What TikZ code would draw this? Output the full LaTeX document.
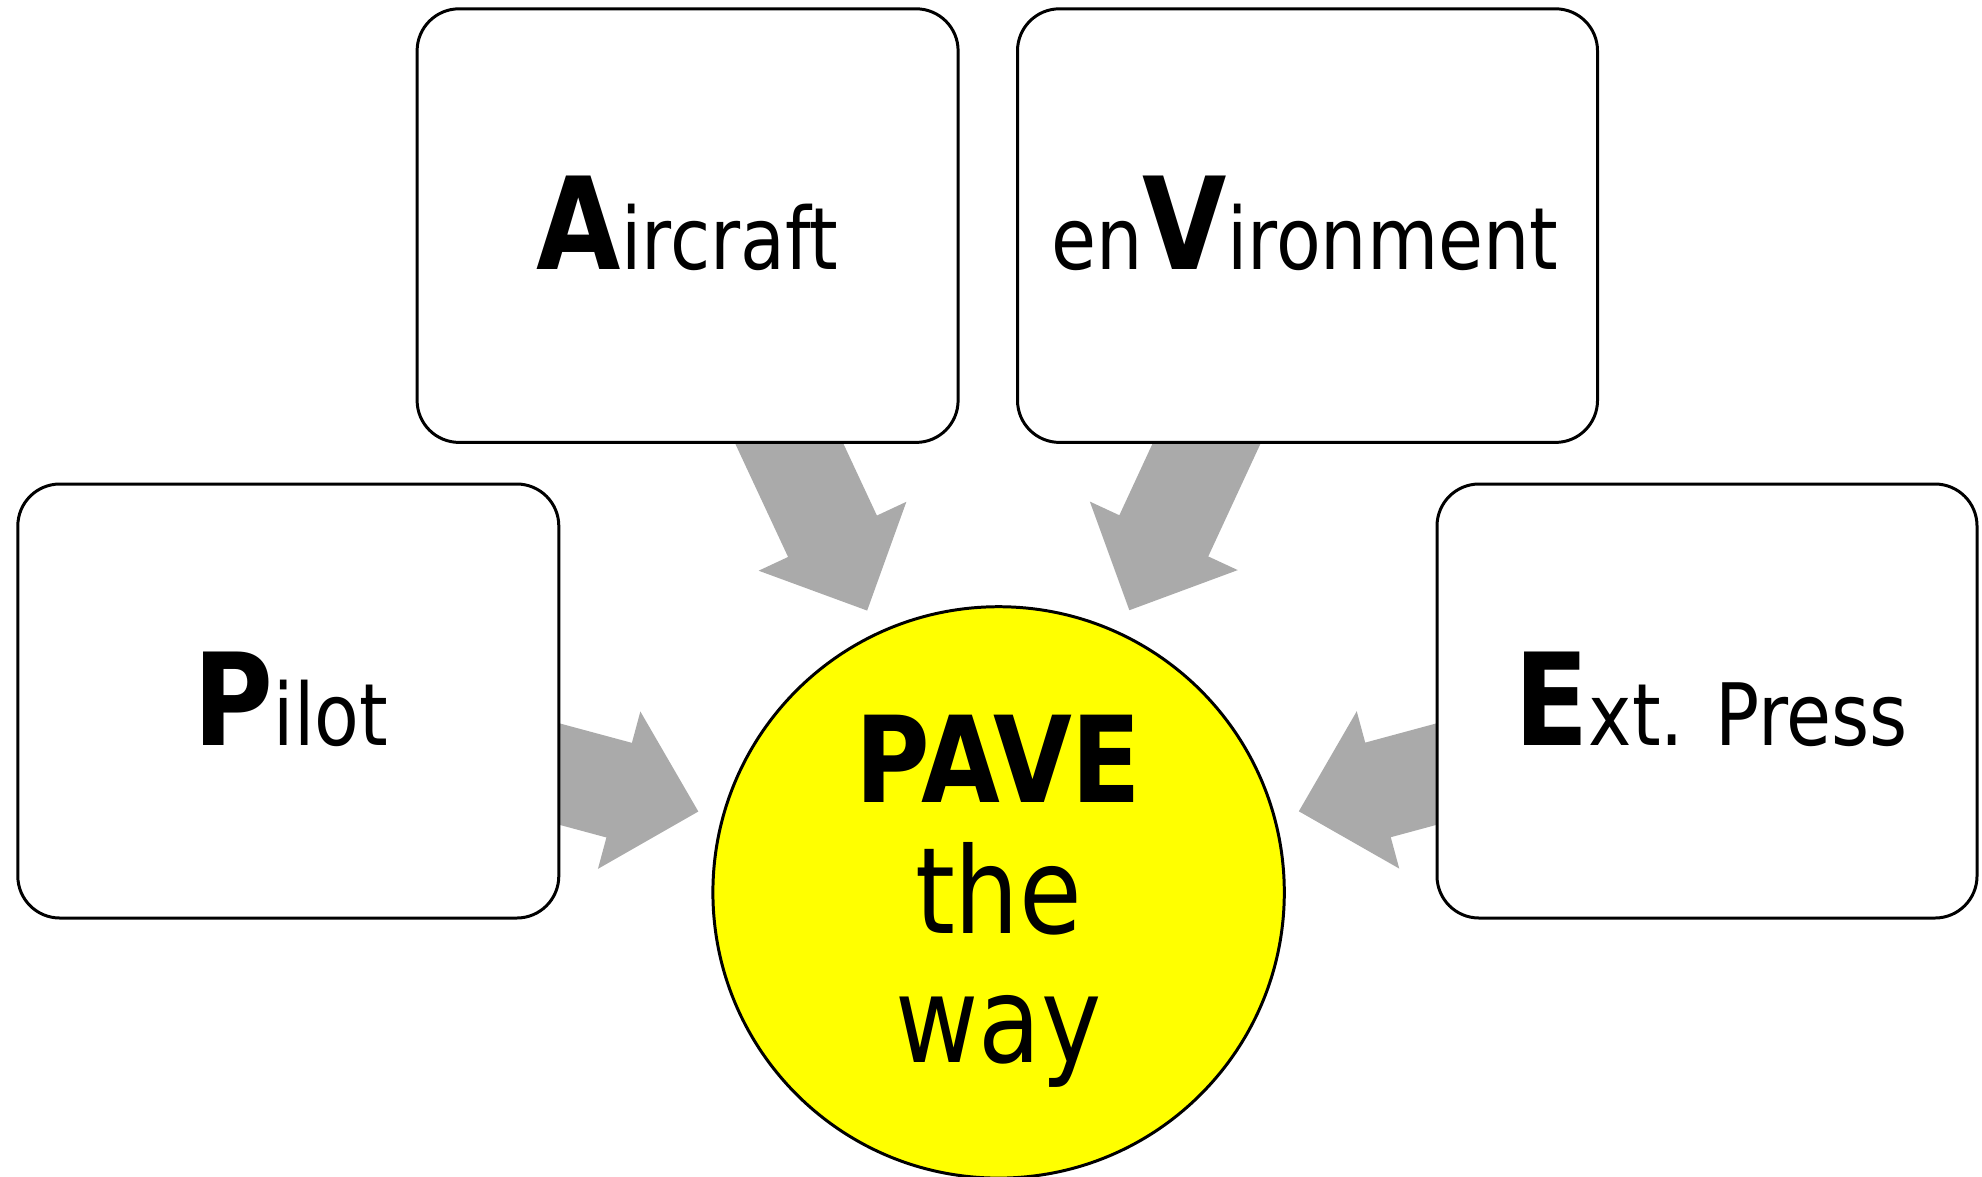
\documentclass[tikz,border=0pt]{standalone}
\usepackage{fontspec}
\setmainfont{DejaVu Sans}[FakeStretch=0.85]
\usetikzlibrary{calc,backgrounds}
\definecolor{arrowgray}{HTML}{AAAAAA}
\definecolor{paveyellow}{HTML}{FFFF00}
\newcommand{\bigL}[1]{{\fontsize{36.5}{40}\selectfont\bfseries #1}}
\tikzset{
  box/.style={draw=black, line width=0.85pt, fill=white, rounded corners=4.2mm, inner sep=0pt},
  lbl/.style={anchor=base, inner sep=0pt, font=\fontsize{24.5}{28}\selectfont},
  pave/.style={draw=black, circle, fill=paveyellow, line width=0.85pt, minimum size=57.14mm, inner sep=0pt},
  ctext/.style={anchor=base, inner sep=0pt, font=\fontsize{34.1}{38}\selectfont},
  arrowfill/.style={fill=arrowgray, draw=none},
}
% #1 source node, #2 target node
\newcommand{\paveArrow}[2]{%
  \coordinate (#1h) at ($(#2.center)!39.3mm!(#1.center)$);
  \coordinate (#1t) at ($(#2.center)!31.1mm!(#1.center)$);
  \fill[arrowfill]
    ($(#1.center)!4.9mm!90:(#2.center)$) --
    ($(#1h)!4.9mm!90:(#2.center)$) --
    ($(#1h)!8.15mm!90:(#2.center)$) --
    (#1t) --
    ($(#1h)!8.15mm!-90:(#2.center)$) --
    ($(#1h)!4.9mm!-90:(#2.center)$) --
    ($(#1.center)!4.9mm!-90:(#2.center)$) -- cycle;
}
\begin{document}
\begin{tikzpicture}[x=0.1mm, y=-0.1mm]
  \useasboundingbox (0,0) rectangle (1982,1176);
  % boxes
  \node[box, minimum width=54.1mm, minimum height=43.36mm] (air) at (687.6,225.6) {};
  \node[box, minimum width=58.0mm, minimum height=43.36mm] (env) at (1307.5,225.6) {};
  \node[box, minimum width=54.1mm, minimum height=43.4mm] (pil) at (288.3,701) {};
  \node[box, minimum width=54.0mm, minimum height=43.4mm] (ext) at (1707,701) {};
  % centre circle
  \node[pave] (pave) at (998.6,892.4) {};
  % arrows behind
  \begin{scope}[on background layer]
    \paveArrow{air}{pave}
    \paveArrow{env}{pave}
    \paveArrow{pil}{pave}
    \paveArrow{ext}{pave}
  \end{scope}
  % labels
  \node[lbl] (tAir) at (687.6,269.8) {\bigL{A}ircraft};
  \node[lbl] (tEnv) at (1305,269.8) {en\bigL{V}ironment};
  \node[lbl] (tPil) at (291,745) {\bigL{P}ilot};
  \node[lbl] (tExt) at (1711,745) {\bigL{E}xt. Press};
  \node[ctext, font=\fontsize{34.1}{38}\selectfont\bfseries] (t1) at (998.6,802) {PAVE};
  \node[ctext] (t2) at (998.6,933) {the};
  \node[ctext] (t3) at (998.6,1062.5) {way};
\end{tikzpicture}
\end{document}
